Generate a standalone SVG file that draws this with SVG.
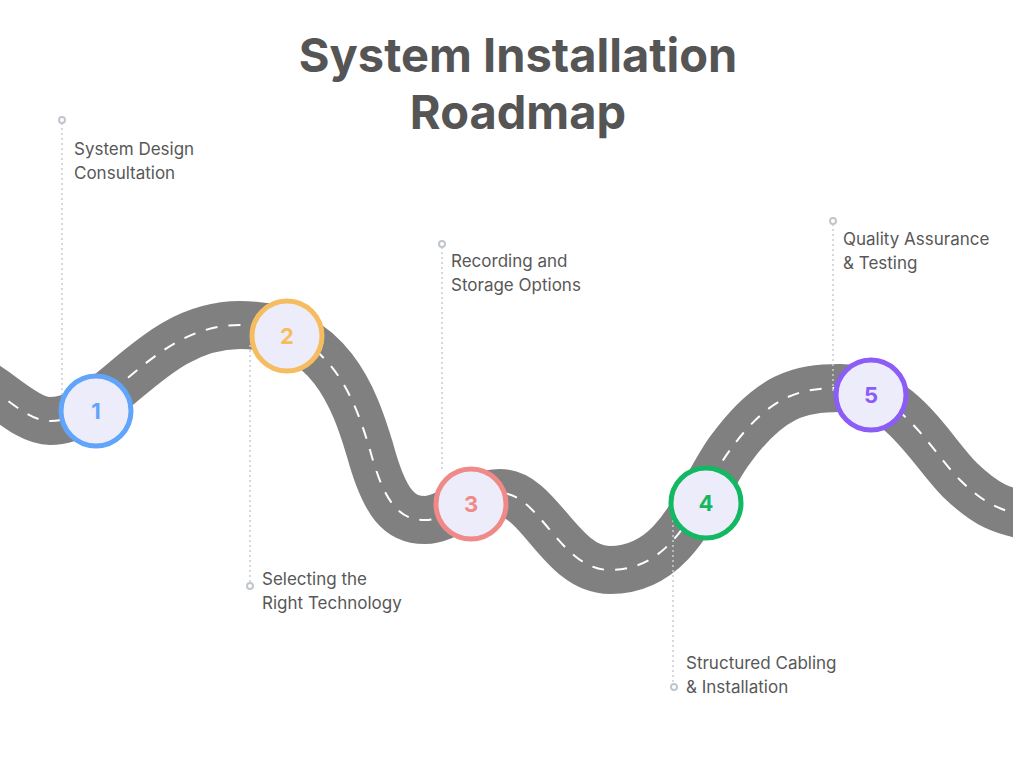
<svg xmlns="http://www.w3.org/2000/svg" width="1024" height="768" viewBox="0 0 1024 768">
<style>
.title{font-family:Inter,"Liberation Sans",sans-serif;font-weight:700;font-size:47px;fill:#555;text-anchor:middle}
.lbl{font-family:Inter,"Liberation Sans",sans-serif;font-size:17px;fill:#585858}
.num{font-family:Inter,"Liberation Sans",sans-serif;font-weight:700;font-size:22px;text-anchor:middle}
.lead{stroke:#c8ccd2;stroke-width:1.5;stroke-dasharray:2 3;fill:none}
.dot{fill:#fff;stroke:#c0c6cc;stroke-width:2}
.node{fill:#ececfa;stroke-width:5}
</style>
<defs>
<clipPath id="clip"><rect x="0" y="0" width="1013" height="768"/></clipPath>
<path id="roadPath" d="M -30 376 C 0 390, 25 421, 50 421 C 110 421, 150 325, 240 325 C 330 325, 355 400, 370 450 C 385 505, 400 520, 425 520 C 450 520, 470 493, 500 493 C 540 493, 560 570, 610 570 C 680 570, 700 490, 730 450 C 770 395, 800 388, 840 388 C 900 388, 930 450, 960 480 C 985 504, 1000 512, 1040 518"/>
</defs>
<rect width="1024" height="768" fill="#fff"/>
<text class="title" x="518" y="72">System Installation</text>
<text class="title" x="518" y="129">Roadmap</text>
<g id="connectors">
<g clip-path="url(#clip)">
<use href="#roadPath" fill="none" stroke="#808080" stroke-width="48"/>
<use href="#roadPath" fill="none" stroke="#fff" stroke-width="2" stroke-dasharray="12 11"/>
</g>
<line class="lead" x1="62" y1="123" x2="62" y2="398"/>
<line class="lead" x1="250" y1="345" x2="250" y2="583"/>
<line class="lead" x1="442" y1="247" x2="442" y2="472"/>
<line class="lead" x1="673" y1="520" x2="673" y2="684"/>
<line class="lead" x1="833" y1="224" x2="833" y2="392"/>
<circle class="dot" cx="62" cy="120" r="3"/>
<circle class="dot" cx="250" cy="586" r="3"/>
<circle class="dot" cx="442" cy="244" r="3"/>
<circle class="dot" cx="674" cy="687" r="3"/>
<circle class="dot" cx="833" cy="221" r="3"/>
</g>
<g id="step1">
<circle class="node" cx="96" cy="411" r="35" stroke="#60a5fa"/>
<text class="num" x="96" y="419" fill="#60a5fa">1</text>
<text class="lbl" x="74" y="155">System Design</text>
<text class="lbl" x="74" y="179">Consultation</text>
</g>
<g id="step2">
<circle class="node" cx="287" cy="336" r="35" stroke="#f6bd60"/>
<text class="num" x="287" y="344" fill="#f6bd60">2</text>
<text class="lbl" x="262" y="585">Selecting the</text>
<text class="lbl" x="262" y="609">Right Technology</text>
</g>
<g id="step3">
<circle class="node" cx="471" cy="504" r="35" stroke="#f08a88"/>
<text class="num" x="471" y="512" fill="#f08a88">3</text>
<text class="lbl" x="451" y="267">Recording and</text>
<text class="lbl" x="451" y="291">Storage Options</text>
</g>
<g id="step4">
<circle class="node" cx="706" cy="503" r="35" stroke="#12b862"/>
<text class="num" x="706" y="511" fill="#12b862">4</text>
<text class="lbl" x="686" y="669">Structured Cabling</text>
<text class="lbl" x="686" y="693">&amp; Installation</text>
</g>
<g id="step5">
<circle class="node" cx="871" cy="395" r="35" stroke="#8b5cf6"/>
<text class="num" x="871" y="403" fill="#8b5cf6">5</text>
<text class="lbl" x="843" y="245">Quality Assurance</text>
<text class="lbl" x="843" y="269">&amp; Testing</text>
</g>
</svg>
